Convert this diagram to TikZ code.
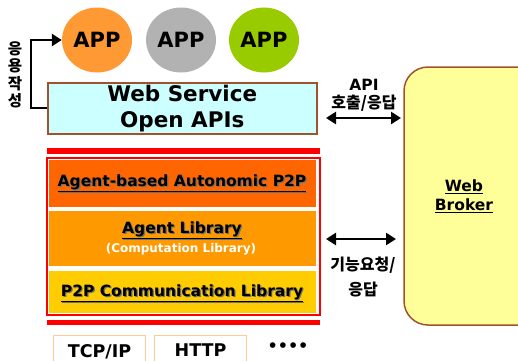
\documentclass[tikz,border=0pt]{standalone}
\usepackage{fontspec}
\setmainfont{DejaVu Sans}
\newfontfamily\kr{Noto Sans CJK KR}
\usetikzlibrary{arrows.meta,shapes.geometric,calc}
\definecolor{appOrange}{HTML}{FF9933}
\definecolor{appGray}{HTML}{B2B2B2}
\definecolor{appGreen}{HTML}{99CC00}
\definecolor{wsFill}{HTML}{CCFFFF}
\definecolor{brownLine}{HTML}{A0522D}
\definecolor{layerA}{HTML}{FF6600}
\definecolor{layerB}{HTML}{FF9900}
\definecolor{layerC}{HTML}{FFCC00}
\definecolor{brokerFill}{HTML}{FFFF99}
\definecolor{protoLine}{HTML}{FFCC99}
\definecolor{shade}{HTML}{707070}
\tikzset{
  app/.style={ellipse, minimum width=70pt, minimum height=65pt, inner sep=0pt,
    font=\bfseries\fontsize{21}{21}\selectfont},
  layer/.style={draw=none, inner sep=0pt},
  big/.style={font=\bfseries\fontsize{21.5}{26}\selectfont},
  mid/.style={font=\bfseries\fontsize{15.5}{17}\selectfont},
  krlabel/.style={font=\kr\bfseries\fontsize{16}{21}\selectfont, align=center, inner sep=0pt},
  dbl/.style={line width=2.6pt, {Triangle[length=10pt,width=12pt]}-{Triangle[length=10pt,width=12pt]}},
  proto/.style={draw=protoLine, line width=1pt, minimum width=92pt, minimum height=30pt,
    anchor=north west, font=\bfseries\fontsize{17.5}{18}\selectfont, text depth=0pt},
}
% layer caption with a soft drop shadow
\newcommand{\layertext}[3]{%
  \node[layer, mid, text=shade] at ($(#1)+(1.2,1.2)$) {\underline{#3}};
  \node[layer, mid] (#2) at (#1) {\underline{#3}};}
\begin{document}
\begin{tikzpicture}[x=1pt,y=-1pt]
\useasboundingbox (0,0) rectangle (518,360);

% application circles
\node[app, fill=appOrange] (app1) at (97,40) {APP};
\node[app, fill=appGray]   (app2) at (181,40) {APP};
\node[app, fill=appGreen]  (app3) at (264,40) {APP};

% web service layer
\node[draw=brownLine, line width=1.5pt, fill=wsFill, minimum width=269pt, minimum height=51pt,
  anchor=north west, big, align=center, inner sep=0pt] (ws) at (47,82)
  {Web Service\\Open APIs};

% application composition loop
\coordinate (lb) at (31,108);
\coordinate (lt) at (31,40);
\draw[line width=2.8pt, -{Triangle[length=10pt,width=12pt]}]
  (ws.west |- lb) -- (lb) -- (lt) -- (app1.west);
\node[krlabel, font=\kr\bfseries\fontsize{15.5}{17.5}\selectfont] (mk) at (15,75) {응\\용\\작\\성};

% red rails and agent stack
\fill[red] (47,148) rectangle (320,154);
\fill[red] (47,320) rectangle (320,325);
\draw[red, line width=1.5pt] (47,158) rectangle (320,315);
\fill[layerA] (49,160) rectangle (316,207);
\fill[layerB] (49,211) rectangle (316,266);
\fill[layerC] (49,271) rectangle (316,313);

\coordinate (pa) at (182,183);
\coordinate (pb) at (182,230);
\coordinate (pd) at (182,293);
\layertext{pa}{la}{Agent-based Autonomic P2P}
\layertext{pb}{lb2}{Agent Library}
\node[layer, white, font=\bfseries\fontsize{12}{13}\selectfont] (lc) at (181,249) {(Computation Library)};
\layertext{pd}{ld}{P2P Communication Library}

% broker
\draw[draw=brownLine, line width=1.5pt, fill=brokerFill, rounded corners=24pt]
  (404,67) rectangle (545,325);
\node[align=center, inner sep=0pt, font=\bfseries\fontsize{15.5}{19}\selectfont] (broker) at (464,196)
  {\underline{Web}\\\underline{Broker}};

% interface arrows
\coordinate (a1l) at (326,118);
\coordinate (a1r) at (401,118);
\draw[dbl] (a1l) -- (a1r);
\node[font=\bfseries\fontsize{15.5}{15.5}\selectfont, inner sep=0pt] (api) at (364,85) {API};
\node[krlabel] (call) at (364,103) {호출/응답};

\coordinate (a2l) at (326,239);
\coordinate (a2r) at (396,239);
\draw[dbl] (a2l) -- (a2r);
\node[krlabel, font=\kr\bfseries\fontsize{16}{25}\selectfont] (func) at (363,277) {기능요청/\\응답};

% transport protocols
\node[proto] (tcp) at (53,335) {TCP/IP};
\node[proto] (http) at (154,335) {HTTP};
\node[font=\bfseries\fontsize{16}{16}\selectfont, inner sep=0pt] (more) at (288,347) {••••};
\end{tikzpicture}
\end{document}
